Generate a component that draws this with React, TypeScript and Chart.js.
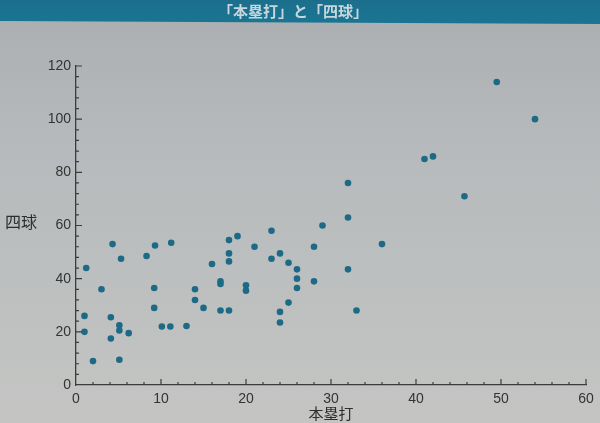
import React, { useEffect, useRef } from "react";
import { Chart, registerables } from "chart.js";

Chart.register(...registerables);

const chartTitle = "「本塁打」と「四球」";
const xAxisTitle = "本塁打";
const yAxisTitle = "四球";

// 本塁打 (home runs) for each player
const homeRuns = [
  1.2, 1, 1, 2, 3, 4.3, 4.1, 4.1, 5.3, 5.1, 5.1, 5.1, 6.2, 8.3, 9.3, 9.2, 9.2, 10.1, 11.1, 11.2,
  13, 14, 14, 15, 16, 17, 17, 17, 18, 18, 18, 18, 19, 20, 20, 21, 23, 23, 24, 24,
  24, 25, 25, 26, 26, 26, 28, 28, 29, 32, 32, 32, 33, 36, 41, 42, 45.7, 49.5, 54,
];
// 四球 (walks) for each player
const walks = [
  44, 26, 20, 9, 36, 53, 25.5, 17.5, 47.5, 22.5, 20.5, 9.5, 19.5, 48.5, 52.5, 36.5, 29, 22, 22, 53.5,
  22.2, 36, 32, 29, 45.5, 39, 38, 28, 28, 46.5, 49.5, 54.5, 56, 37.5, 35.5, 52, 58, 47.5, 49.5, 27.5,
  23.5, 46, 31, 43.5, 40, 36.5, 52, 39, 60, 76, 63, 43.5, 28, 53, 85, 86, 71, 114, 100,
];

const xTicksMajor = [0, 10, 20, 30, 40, 50, 60];
const yTicksMajor = [0, 20, 40, 60, 80, 100, 120];

const FONT = "'Liberation Sans', 'Noto Sans CJK JP', sans-serif";
const JP_FONT = "'Noto Sans CJK JP', sans-serif";

export default function App() {
  const ref = useRef<HTMLCanvasElement | null>(null);

  useEffect(() => {
    if (!ref.current) return;

    const pagePlugin = {
      id: "page",
      beforeDraw(chart: any) {
        const ctx = chart.ctx;
        const w = chart.width;
        const h = chart.height;
        ctx.save();
        const g = ctx.createLinearGradient(0, 0, 0, h);
        g.addColorStop(0, "#aaaeb1");
        g.addColorStop(0.35, "#b6babc");
        g.addColorStop(1, "#c4c5c3");
        ctx.fillStyle = g;
        ctx.fillRect(0, 0, w, h);
        const bg = ctx.createLinearGradient(0, 0, 0, 24);
        bg.addColorStop(0, "#1b6f8d");
        bg.addColorStop(1, "#1a7592");
        ctx.fillStyle = bg;
        ctx.beginPath();
        ctx.moveTo(0, 0);
        ctx.lineTo(w, 0);
        ctx.lineTo(w, 24);
        ctx.lineTo(0, 21);
        ctx.closePath();
        ctx.fill();
        ctx.restore();
      },
      afterDraw(chart: any) {
        const ctx = chart.ctx;
        const xs = chart.scales.x;
        const ys = chart.scales.y;
        const area = chart.chartArea;
        ctx.save();
        ctx.strokeStyle = "#3c3c3c";
        ctx.lineWidth = 1.2;
        ctx.beginPath();
        for (let v = 0; v <= 60; v += 2) {
          const px = xs.getPixelForValue(v);
          const len = v % 10 === 0 ? 6 : 3;
          if (v === 0) continue;
          ctx.moveTo(px, area.bottom);
          ctx.lineTo(px, area.bottom - len);
        }
        for (let v = 0; v <= 120; v += 4) {
          const py = ys.getPixelForValue(v);
          const len = v % 20 === 0 ? 6 : 3;
          if (v === 0) continue;
          ctx.moveTo(area.left, py);
          ctx.lineTo(area.left + len, py);
        }
        ctx.stroke();
        ctx.fillStyle = "#2e2e2e";
        ctx.font = "16px " + JP_FONT;
        ctx.textAlign = "left";
        ctx.textBaseline = "middle";
        ctx.fillText(yAxisTitle, 5, ys.getPixelForValue(61.5));
        ctx.restore();
      },
    };

    const chart = new Chart(ref.current, {
      type: "scatter",
      data: {
        datasets: [
          {
            data: homeRuns.map((x, i) => ({ x, y: walks[i] })),
            backgroundColor: "#1d6a86",
            borderColor: "#1d6a86",
            borderWidth: 0,
            pointRadius: 3.3,
          },
        ],
      },
      options: {
        responsive: false,
        animation: false,
        devicePixelRatio: 1,
        layout: { padding: { top: 0, right: 14, bottom: 0, left: 0 } },
        plugins: {
          legend: { display: false },
          tooltip: { enabled: false },
          title: {
            display: true,
            text: chartTitle,
            color: "#c5d6dd",
            font: { family: JP_FONT, size: 15, weight: "bold", lineHeight: 1.2 },
            padding: { top: 2, bottom: 46 },
          },
        },
        scales: {
          x: {
            type: "linear",
            min: 0,
            max: 60,
            afterBuildTicks(scale: any) {
              scale.ticks = xTicksMajor.map((v) => ({ value: v }));
            },
            afterFit(scale: any) {
              scale.height = 38;
            },
            grid: { display: false, drawTicks: false },
            border: { display: true, color: "#3c3c3c", width: 1.3 },
            ticks: {
              color: "#333",
              font: { family: FONT, size: 14 },
              padding: 6,
              maxRotation: 0,
            },
            title: {
              display: true,
              text: xAxisTitle,
              color: "#2e2e2e",
              font: { family: JP_FONT, size: 15 },
              padding: { top: 0, bottom: 1 },
            },
          },
          y: {
            type: "linear",
            min: 0,
            max: 120,
            afterBuildTicks(scale: any) {
              scale.ticks = yTicksMajor.map((v) => ({ value: v }));
            },
            afterFit(scale: any) {
              scale.width = 76;
            },
            grid: { display: false, drawTicks: false },
            border: { display: true, color: "#3c3c3c", width: 1.3 },
            ticks: {
              color: "#333",
              font: { family: FONT, size: 14 },
              padding: 5,
            },
          },
        },
      },
      plugins: [pagePlugin],
    });

    return () => chart.destroy();
  }, []);

  return (
    <div style={{ position: "absolute", left: 0, top: 0, width: 600, height: 423 }}>
      <canvas ref={ref} width={600} height={423} style={{ width: 600, height: 423, display: "block" }} />
    </div>
  );
}
